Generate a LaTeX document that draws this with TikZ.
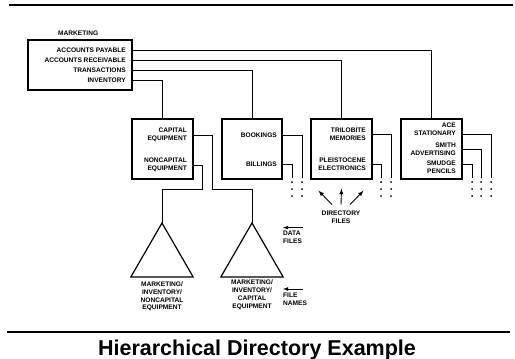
\documentclass[tikz,border=0pt]{standalone}
\usepackage{fontspec}
\setmainfont{Liberation Sans}
\usetikzlibrary{arrows,calc,shapes.geometric}

\begin{document}
\begin{tikzpicture}[x=1pt,y=-1pt,
  lbl/.style={font=\bfseries\fontsize{6.6}{7.8}\selectfont, inner sep=0pt},
  entry/.style={lbl, anchor=east, align=right},
  dirbox/.style={draw, line width=1.4pt, minimum width=61pt, minimum height=60pt, inner sep=0pt},
  link/.style={line width=0.8pt},
  tri/.style={draw, line width=1.2pt, regular polygon, regular polygon sides=3, minimum size=72pt, inner sep=0pt, outer sep=0pt}]
\useasboundingbox (0,0) rectangle (515,359);
% rules
\draw[line width=2pt] (9,5) -- (513,5);
\draw[line width=1.8pt] (7,332) -- (510,332);

% marketing directory
\node[dirbox, minimum width=104pt, minimum height=50pt] (mkt) at (80,65) {};
\node[lbl, anchor=west] (mktname) at (58,33) {MARKETING};
\node[entry] (pay) at (126,50) {ACCOUNTS PAYABLE};
\node[entry] (rec) at (126,60) {ACCOUNTS RECEIVABLE};
\node[entry] (trans) at (126,70) {TRANSACTIONS};
\node[entry] (inv) at (126,80) {INVENTORY};

% second level directories
\node[dirbox] (cap) at (162.5,149) {};
\node[dirbox, minimum width=60pt] (bk) at (252,149) {};
\node[dirbox] (tril) at (341.5,149) {};
\node[dirbox] (ace) at (431.5,149) {};

\node[entry] (capeq) at (187,135) {CAPITAL\\EQUIPMENT};
\node[entry] (noncap) at (187,165) {NONCAPITAL\\EQUIPMENT};
\node[entry] (book) at (277,135) {BOOKINGS};
\node[entry] (bill) at (277,164) {BILLINGS};
\node[entry] (mem) at (366,134.5) {TRILOBITE\\MEMORIES};
\node[entry] (elec) at (366,164.5) {PLEISTOCENE\\ELECTRONICS};
\node[entry] (stat) at (456,129) {ACE\\STATIONARY};
\node[entry] (adv) at (456,149) {SMITH\\ADVERTISING};
\node[entry] (pen) at (456,167.5) {SMUDGE\\PENCILS};

\draw[link] (pay.east -| mkt.east) -| (ace.north);
\draw[link] (rec.east -| mkt.east) -| (tril.north);
\draw[link] (trans.east -| mkt.east) -| (bk.north);
\draw[link] (inv.east -| mkt.east) -| (cap.north);

% data files
\node[tri] (tri1) at (162,259) {};
\node[tri] (tri2) at (252,259) {};
\node[lbl, align=center, anchor=north] (tri1name) at (162,281.5) {MARKETING/\\INVENTORY/\\NONCAPITAL\\EQUIPMENT};
\node[lbl, align=center, anchor=north] (tri2name) at (252,280) {MARKETING/\\INVENTORY/\\CAPITAL\\EQUIPMENT};

\coordinate (capbend) at (212,189);
\coordinate (ncbend) at (202,189);
\draw[link] (capeq.east -| cap.east) -| (capbend) -| (tri2.corner 1);
\draw[link] (noncap.east -| cap.east) -| (ncbend) -| (tri1.corner 1);

% leaders to further files
\coordinate (lbook) at (302,178);
\coordinate (lbill) at (292,178);
\coordinate (lmem) at (391,178);
\coordinate (lelec) at (381,178);
\coordinate (lstat) at (491,178);
\coordinate (ladv) at (481,178);
\coordinate (lpen) at (472,178);
\draw[link] (book.east -| bk.east) -| (lbook);
\draw[link] (bill.east -| bk.east) -| (lbill);
\draw[link] (mem.east -| tril.east) -| (lmem);
\draw[link] (elec.east -| tril.east) -| (lelec);
\draw[link] ($(stat.east -| ace.east)+(0,5)$) -| (lstat);
\draw[link] (adv.east -| ace.east) -| (ladv);
\draw[link] ($(pen.east -| ace.east)+(0,-3)$) -| (lpen);
\foreach \c in {lbook,lbill,lmem,lelec,lstat,ladv,lpen}
  \foreach \dy in {4,11,18}
    \fill ($(\c)+(0,\dy)$) circle (1pt);

% legend
\node[lbl, align=center] (dirfiles) at (341,217) {DIRECTORY\\FILES};
\draw[-latex, line width=0.9pt] ($(dirfiles.north)+(-9,-6)$) -- ($(tril.south)+(-23,11)$);
\draw[-latex, line width=0.9pt] ($(dirfiles.north)+(0,-6)$) -- ($(tril.south)+(0,9)$);
\draw[-latex, line width=0.9pt] ($(dirfiles.north)+(9,-6)$) -- ($(tril.south)+(22,11)$);

\node[lbl, align=left, anchor=north west] (datafiles) at (283,230.6) {DATA\\FILES};
\draw[-latex, link] ($(datafiles.north west)+(20,-3)$) -- ($(datafiles.north west)+(0,-3)$);
\node[lbl, align=left, anchor=north west] (filenames) at (283,292.6) {FILE\\NAMES};
\draw[-latex, link] ($(filenames.north west)+(20,-3.6)$) -- ($(filenames.north west)+(0,-3.6)$);

\node[font=\bfseries\fontsize{21.5}{24}\selectfont, anchor=base, inner sep=0pt] (title) at (257,355) {Hierarchical Directory Example};
\end{tikzpicture}
\end{document}
